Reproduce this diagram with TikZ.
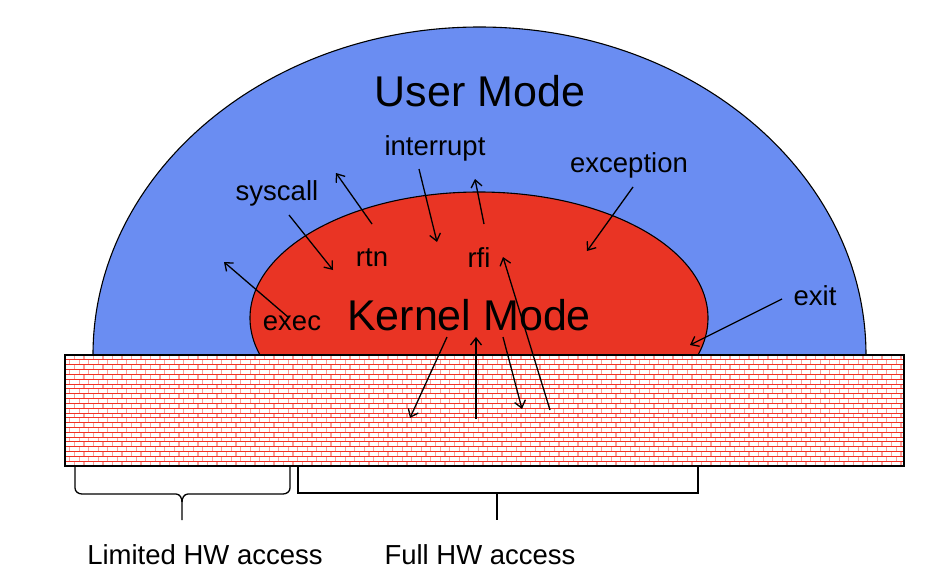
\documentclass[tikz,border=0pt]{standalone}
\usepackage{fontspec}
\setmainfont{Liberation Sans}
\usetikzlibrary{arrows.meta}

\definecolor{userblue}{RGB}{106,141,242}
\definecolor{kernred}{RGB}{233,52,36}
\definecolor{brickred}{RGB}{240,48,36}

\begin{document}
\begin{tikzpicture}[
  x=1pt, y=-1pt,
  outline/.style = {draw=black, line width=1.1pt},
  mortar/.style  = {draw=brickred, line width=0.9pt},
  joint/.style   = {draw=brickred!45, line width=1.4pt},
  flow/.style    = {-{Straight Barb[length=7pt,width=11pt]}, line width=1.3pt},
  title/.style   = {font=\fontsize{43}{43}\selectfont, inner sep=0pt},
  lbl/.style     = {font=\fontsize{27.5}{28}\selectfont, inner sep=0pt},
  brace/.style   = {line width=1.3pt},
]
\useasboundingbox (0,0) rectangle (930,586);

\def\wl{65}     % wall left
\def\wr{904}    % wall right
\def\wt{355}    % wall top
\def\wb{466}    % wall bottom
\def\bh{4.83}   % brick height
\def\bw{9.5}    % brick width

% ---- user mode dome ---------------------------------------------------------
\begin{scope}
  \clip (0,0) rectangle (930,\wt);
  \fill[userblue] (479.5,\wt) ellipse (386.5 and 328);
  \draw[outline]  (479.5,\wt) ellipse (386.5 and 328);
  \fill[kernred]  (479,318) ellipse (229 and 126);
  \draw[outline]  (479,318) ellipse (229 and 126);
\end{scope}

% ---- hardware wall ----------------------------------------------------------
\fill[white] (\wl,\wt) rectangle (\wr,\wb);
\begin{scope}
  \clip (\wl,\wt) rectangle (\wr,\wb);
  \foreach \r in {0,...,22} {
    \pgfmathsetmacro\yy{\wt+\r*\bh}
    \pgfmathsetmacro\off{mod(\r,2)*\bw/2}
    \foreach \c in {0,...,88}
      \draw[joint] ({\wl+\off+\c*\bw},\yy) -- ++(0,\bh);
    \draw[mortar] (\wl,\yy) -- (\wr,\yy);
  }
\end{scope}
\draw[line width=1.3pt] (\wl,\wt) rectangle (\wr,\wb);

% ---- labels -----------------------------------------------------------------
\node[title] (user)   at (480,91)  {User Mode};
\node[title] (kernel) at (469,315) {Kernel Mode};
\node[lbl] (interrupt) at (435,148) {interrupt};
\node[lbl] (syscall)   at (277,193) {syscall};
\node[lbl] (exception) at (629,165) {exception};
\node[lbl] (rtn)       at (372,258) {rtn};
\node[lbl] (rfi)       at (479,258) {rfi};
\node[lbl] (exec)      at (292,323) {exec};
\node[lbl] (exit)      at (815,296) {exit};
\node[lbl] (limited)   at (205,555) {Limited HW access};
\node[lbl] (full)      at (480,555) {Full HW access};

% ---- transitions ------------------------------------------------------------
\foreach \n/\xa/\ya/\xb/\yb in {
    sys/289/215/333/270,
    ret/372/224/336/173,
    irq/419/169/437/242,
    ufi/484/224/475/179,
    exe/288/317/224/262,
    exc/633/187/587/251,
    ext/782/299/690/345,
    hwa/550/410/503/257,
    hwb/447/337/410/418,
    hwc/476/419/476/337,
    hwd/503/337/522/409} {
  \coordinate (\n-s) at (\xa,\ya);
  \coordinate (\n-e) at (\xb,\yb);
  \draw[flow] (\n-s) -- (\n-e);
}

% ---- access braces ----------------------------------------------------------
\draw[brace] (75,\wb) -- (75,488) to[out=-90,in=180] (82,494) -- (176,494)
             to[out=0,in=90] (182,502) -- (182,520);
\draw[brace] (182,502) to[out=90,in=180] (188,494) -- (283,494)
             to[out=0,in=-90] (290,488) -- (290,\wb);
\draw[brace] (298,\wb) -- (298,493) -- (698,493) -- (698,\wb);
\draw[brace] (497,493) -- (497,520);

\end{tikzpicture}
\end{document}
